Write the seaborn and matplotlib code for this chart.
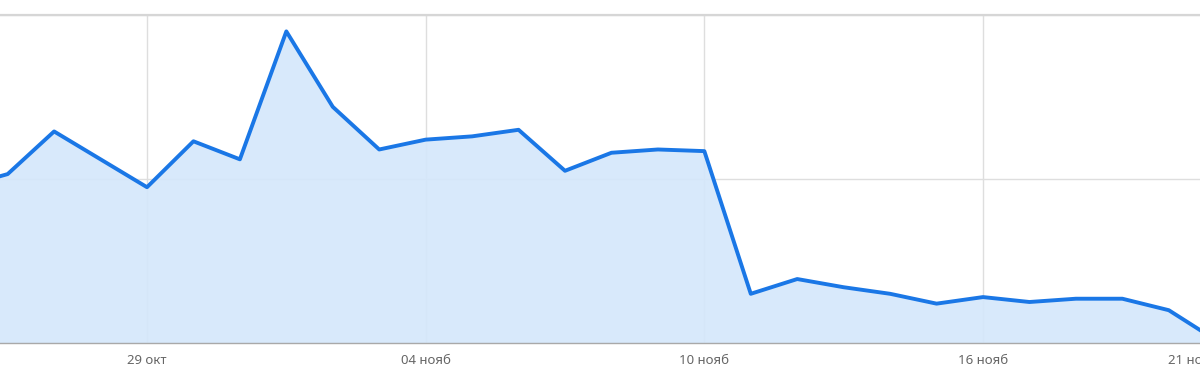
import matplotlib
matplotlib.use("Agg")
import matplotlib.pyplot as plt
import matplotlib.transforms as mtransforms
import seaborn as sns
import pandas as pd
import numpy as np

# Day index 0 = 26 окт ... 26 = 21 нояб (day -1 = 25 окт, just off the left edge)
days = list(range(-1, 27))
values = [95, 103, 129, 112, 95, 123, 112, 190, 144, 118, 124, 126, 130, 105, 116,
          118, 117, 30, 39, 34, 30, 24, 28, 25, 27, 27, 20, 2]
tick_days = [3, 9, 15, 21, 26]
tick_labels = ["29 окт", "04 нояб", "10 нояб", "16 нояб", "21 нояб"]
y_grid = [0, 100, 200]

df = pd.DataFrame({"day": days, "value": values})

sns.set_theme(style="white")
plt.rcParams["font.family"] = ["Noto Sans", "DejaVu Sans"]

fig = plt.figure(figsize=(12, 3.78), dpi=100)
px_per_day = (983 - 147) / 18
x0_px = 147 - 3 * px_per_day
xmin, xmax = -1.0, 27.0
left_px = x0_px + xmin * px_per_day
width_px = (xmax - xmin) * px_per_day
ax = fig.add_axes([left_px / 1200, 35 / 378, width_px / 1200, (343 - 15) / 378])

line_color = "#1a77e6"
ax.fill_between(df["day"], df["value"], 0, color="#d4e7fb", alpha=0.9, lw=0, zorder=1)
sns.lineplot(data=df, x="day", y="value", ax=ax, color=line_color, lw=2.8, zorder=3)

ax.set_xlim(xmin, xmax)
ax.set_ylim(0, 200)
ax.set_xticks(tick_days)
ax.set_xticklabels(tick_labels, fontsize=9.5, color="#666666")
ax.set_yticks(y_grid)
ax.set_yticklabels([])
ax.tick_params(axis="both", length=0, pad=8)
ax.grid(True, color="#dedede", lw=1, zorder=2)
for gl in ax.get_xgridlines() + ax.get_ygridlines():
    gl.set_zorder(2)
ax.set_xlabel("")
ax.set_ylabel("")
for s in ["left", "right"]:
    ax.spines[s].set_visible(False)
ax.spines["top"].set_color("#d6d6d6")
ax.spines["top"].set_linewidth(1.6)
ax.spines["bottom"].set_color("#a9a9a9")
ax.spines["bottom"].set_linewidth(1.0)

# last label is pulled left, as in the reference
last = ax.get_xticklabels()[-1]
offset = mtransforms.ScaledTranslation(-22 / 100, 0, fig.dpi_scale_trans)
last.set_transform(last.get_transform() + offset)

fig.savefig("out.png", dpi=100)
